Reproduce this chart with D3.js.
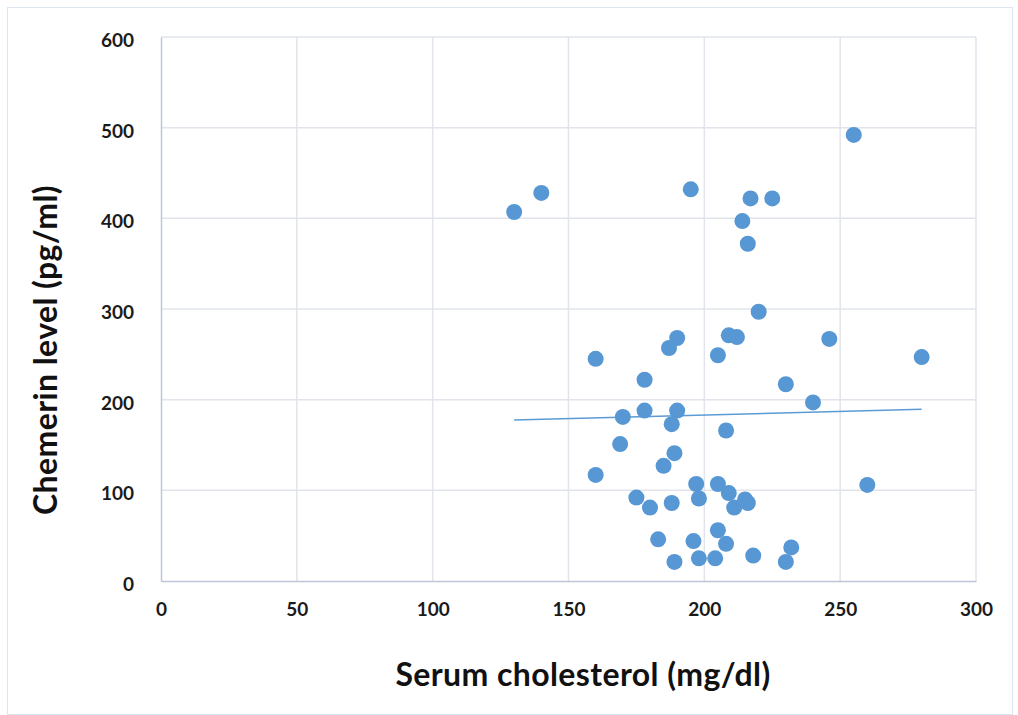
<!DOCTYPE html>
<html lang="en">
<head>
  <meta charset="UTF-8">
  <title>Chemerin vs serum cholesterol</title>
  <style>
    * { margin: 0; padding: 0; }
    body { background: #fff; font-family: Lato, "Open Sans", sans-serif; }
    .frame { position: absolute; left: 7px; top: 7px; width: 1004px; height: 706px; border: 1px solid #dce6f2; }
    .grid line { stroke: #e1e4ea; stroke-width: 1.5; }
    .axis path, .axis line { stroke: #bcc6d6; stroke-width: 1.5; }
    .tick text { font-size: 19px; fill: #1a1a1a; font-weight: bold; font-family: Lato, sans-serif; }
  </style>
</head>
<body>
  <div class="frame"></div>
  <svg id="chart" width="1018" height="715" style="position:absolute;left:0;top:0"></svg>

  <script src="https://cdnjs.cloudflare.com/ajax/libs/d3/7.8.5/d3.min.js"></script>
  <script>
    // serum cholesterol (mg/dl)
    var cholesterol = [130, 140, 195, 217, 225, 214, 216, 255, 220, 246, 280, 209, 212, 205, 230, 240,
      160, 190, 187, 178, 170, 178, 190, 188, 208, 169, 189, 185, 160, 197, 205, 209, 198, 175, 180,
      188, 211, 215, 216, 205, 183, 196, 208, 232, 189, 198, 204, 218, 230, 260];
    // chemerin level (pg/ml)
    var chemerin = [407, 428, 432, 422, 422, 397, 372, 492, 297, 267, 247, 271, 269, 249, 217, 197,
      245, 268, 257, 222, 181, 188, 188, 173, 166, 151, 141, 127, 117, 107, 107, 97, 91, 92, 81,
      86, 81, 90, 86, 56, 46, 44, 41, 37, 21, 25, 25, 28, 21, 106];
    // linear trend line end points
    var trendX = [130, 280];
    var trendY = [177.5, 189.5];
    var xTicks = [0, 50, 100, 150, 200, 250, 300];
    var yTicks = [0, 100, 200, 300, 400, 500, 600];

    var mLeft = 161, mRight = 976, mTop = 37, mBottom = 581;
    var svg = d3.select('#chart');

    var x = d3.scaleLinear().domain([0, 300]).range([mLeft, mRight]);
    var y = d3.scaleLinear().domain([0, 600]).range([mBottom, mTop]);

    // grid
    var grid = svg.append('g').attr('class', 'grid');
    grid.selectAll('.gx').data(xTicks.slice(1)).enter().append('line')
      .attr('x1', d => x(d)).attr('x2', d => x(d))
      .attr('y1', mTop).attr('y2', mBottom);
    grid.selectAll('.gy').data(yTicks.slice(1)).enter().append('line')
      .attr('x1', mLeft).attr('x2', mRight)
      .attr('y1', d => y(d)).attr('y2', d => y(d));

    var xAxis = svg.append('g').attr('class', 'axis')
      .attr('transform', 'translate(0,' + mBottom + ')')
      .call(d3.axisBottom(x).tickValues(xTicks).tickSize(0).tickPadding(22));
    xAxis.selectAll('.tick text').attr('dy', '0.71em');

    var yAxis = svg.append('g').attr('class', 'axis')
      .attr('transform', 'translate(' + mLeft + ',0)')
      .call(d3.axisLeft(y).tickValues(yTicks).tickSize(0).tickPadding(27));
    yAxis.selectAll('.tick text').attr('dy', '0.5em');

    // trend line
    svg.append('line')
      .attr('x1', x(trendX[0])).attr('y1', y(trendY[0]))
      .attr('x2', x(trendX[1])).attr('y2', y(trendY[1]))
      .attr('stroke', '#5b9bd5').attr('stroke-width', 1.5);

    // points
    svg.append('g').selectAll('circle')
      .data(cholesterol).enter().append('circle')
      .attr('cx', d => x(d))
      .attr('cy', (d, i) => y(chemerin[i]))
      .attr('r', 8)
      .attr('fill', '#5797d3');

    // axis titles
    svg.append('text')
      .attr('x', 583).attr('y', 686)
      .attr('text-anchor', 'middle')
      .style('font-size', '32px').style('font-weight', 'bold').style('fill', '#111')
      .style('letter-spacing', '0.4px')
      .text('Serum cholesterol (mg/dl)');

    svg.append('text')
      .attr('transform', 'translate(57,350) rotate(-90)')
      .attr('text-anchor', 'middle')
      .style('font-size', '32px').style('font-weight', 'bold').style('fill', '#111')
      .style('letter-spacing', '0.4px')
      .text('Chemerin level (pg/ml)');
  </script>
</body>
</html>
